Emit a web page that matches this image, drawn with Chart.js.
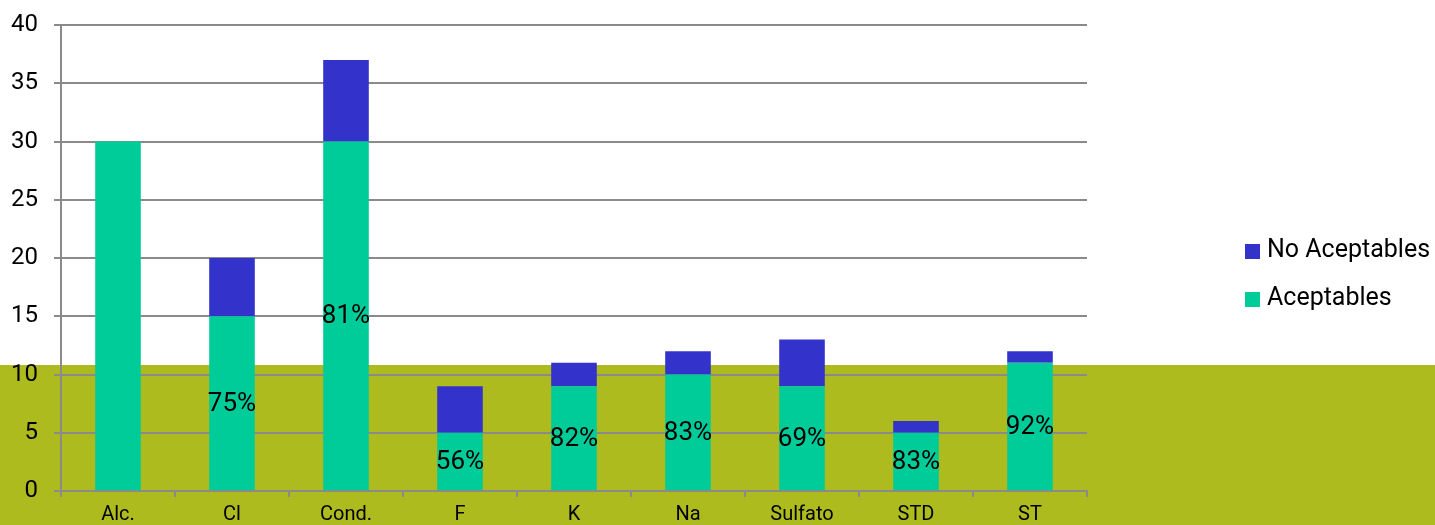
<!DOCTYPE html>
<html>
<head>
<meta charset="utf-8">
<script src="https://cdn.jsdelivr.net/npm/chart.js@4/dist/chart.umd.min.js"></script>
<style>
html,body{margin:0;padding:0;background:#fff;}
canvas{display:block;}
</style>
</head>
<body>
<canvas id="c" width="1435" height="525"></canvas>
<script>
const categories = ['Alc.', 'Cl', 'Cond.', 'F', 'K', 'Na', 'Sulfato', 'STD', 'ST'];
const aceptables = [30, 15, 30, 5, 9, 10, 9, 5, 11];
const noAceptables = [0, 5, 7, 4, 2, 2, 4, 1, 1];
const percentLabels = ['', '75%', '81%', '56%', '82%', '83%', '69%', '83%', '92%'];
const yTicks = [0, 5, 10, 15, 20, 25, 30, 35, 40];

const FONT = 'Roboto, "DejaVu Sans", sans-serif';
const GREEN = '#00CC99';
const BLUE = '#3333CC';
const OLIVE = '#AEBB1F';
const GRID = '#8A8A8A';

const bgPlugin = {
  id: 'bg',
  beforeDraw(chart) {
    const ctx = chart.ctx;
    ctx.save();
    ctx.fillStyle = '#FFFFFF';
    ctx.fillRect(0, 0, chart.width, chart.height);
    ctx.fillStyle = OLIVE;
    ctx.fillRect(0, 365, chart.width, chart.height - 365);
    ctx.restore();
  }
};

const labelPlugin = {
  id: 'pctLabels',
  afterDatasetsDraw(chart) {
    const ctx = chart.ctx;
    const meta = chart.getDatasetMeta(0);
    ctx.save();
    ctx.font = '26px ' + FONT;
    ctx.fillStyle = '#000';
    ctx.textAlign = 'center';
    ctx.textBaseline = 'middle';
    meta.data.forEach((bar, i) => {
      const t = percentLabels[i];
      if (!t) return;
      ctx.fillText(t, bar.x, (bar.y + bar.base) / 2 + 1);
    });
    ctx.restore();
  }
};

const legendPlugin = {
  id: 'customLegend',
  afterDraw(chart) {
    const ctx = chart.ctx;
    const items = [chart.data.datasets[1], chart.data.datasets[0]];
    const ys = [251, 299];
    ctx.save();
    ctx.font = '25px ' + FONT;
    ctx.textBaseline = 'middle';
    ctx.textAlign = 'left';
    items.forEach((ds, i) => {
      ctx.fillStyle = ds.backgroundColor;
      ctx.fillRect(1245, ys[i] - 7, 15, 15);
      ctx.fillStyle = '#000';
      ctx.fillText(ds.label, 1267, ys[i]);
    });
    ctx.restore();
  }
};

new Chart(document.getElementById('c'), {
  type: 'bar',
  data: {
    labels: categories,
    datasets: [
      { label: 'Aceptables', data: aceptables, backgroundColor: GREEN, borderWidth: 0 },
      { label: 'No Aceptables', data: noAceptables, backgroundColor: BLUE, borderWidth: 0 }
    ]
  },
  options: {
    responsive: false,
    animation: false,
    devicePixelRatio: 1,
    layout: { padding: { left: 0, right: 348, top: 25, bottom: 0 } },
    plugins: { legend: { display: false }, tooltip: { enabled: false } },
    datasets: { bar: { barPercentage: 0.4, categoryPercentage: 1.0 } },
    scales: {
      x: {
        stacked: true,
        afterFit(s) { s.height = 34; s.paddingLeft = 0; s.paddingRight = 0; },
        grid: { display: true, offset: true, drawOnChartArea: false, color: GRID, lineWidth: 2, tickLength: 6 },
        border: { display: true, color: GRID, width: 2 },
        ticks: { font: { family: FONT, size: 20 }, color: '#000', padding: 6, maxRotation: 0 }
      },
      y: {
        stacked: true,
        min: 0, max: 40,
        afterFit(s) { s.width = 61; s.paddingTop = 0; s.paddingBottom = 0; },
        afterBuildTicks(s) { s.ticks = yTicks.map(v => ({ value: v })); },
        grid: { color: GRID, lineWidth: 2, tickLength: 7 },
        border: { display: true, color: GRID, width: 2 },
        ticks: { font: { family: FONT, size: 24 }, color: '#000', padding: 16 }
      }
    }
  },
  plugins: [bgPlugin, labelPlugin, legendPlugin]
});
</script>
</body>
</html>
